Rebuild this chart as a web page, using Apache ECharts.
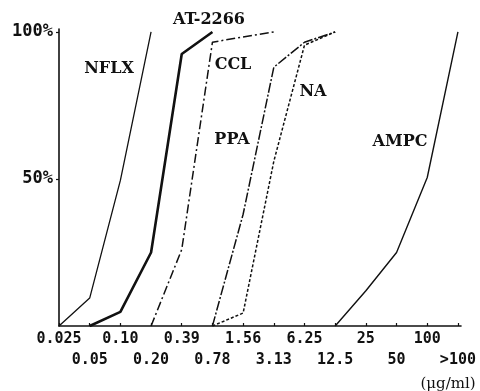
<!DOCTYPE html>
<html>
<head>
<meta charset="utf-8">
<script src="https://cdn.jsdelivr.net/npm/echarts@6/dist/echarts.min.js"></script>
<style>
  html, body { margin: 0; padding: 0; background: #fff; }
  #chart { width: 480px; height: 391px; }
</style>
</head>
<body>
<div id="chart"></div>
<script>
// MIC dilution steps (ug/ml), one axis position each
const concLabels = ['0.025', '0.05', '0.10', '0.20', '0.39', '0.78', '1.56',
  '3.13', '6.25', '12.5', '25', '50', '100', '>100'];

// cumulative % of strains inhibited at each step (null = not drawn)
const nflx   = [0, 9.5, 49.5, 100, null, null, null, null, null, null, null, null, null, null];
const at2266 = [null, 0, 4.8, 25, 92.5, 100, null, null, null, null, null, null, null, null];
const ccl    = [null, null, null, 0, 26, 96.5, 98.3, 100, null, null, null, null, null, null];
const ppa    = [null, null, null, null, null, 0, 38, 88, 96.5, 100, null, null, null, null];
const na     = [null, null, null, null, null, 0, 4.4, 56, 95.5, 100, null, null, null, null];
const ampc   = [null, null, null, null, null, null, null, null, null, 0, 12, 25, 50.5, 100];

const yTicks = [50, 100];

const toPairs = (arr) => arr.map((v, i) => (v == null ? null : [i, v])).filter(Boolean);
const allSteps = concLabels.map((_, i) => i);
const evenSteps = allSteps.filter((i) => i % 2 === 0); // upper label row
const oddSteps = allSteps.filter((i) => i % 2 === 1);  // lower label row

const ink = '#111';
const mkLine = (name, arr, width, type) => ({
  name: name,
  type: 'line',
  xAxisIndex: 0,
  data: toPairs(arr),
  symbol: 'none',
  lineStyle: { color: ink, width: width, type: type },
  emphasis: { disabled: true },
  silent: true,
});

const tickFont = {
  color: ink,
  fontFamily: '"DejaVu Sans Mono", monospace',
  fontWeight: 'bold',
  fontSize: 15,
  hideOverlap: false,
  formatter: (v) => concLabels[v],
};

const labelFont = '"DejaVu Serif", "Liberation Serif", serif';
const tag = (text, x, y, font) => ({
  type: 'text',
  x: x,
  y: y,
  style: {
    text: text,
    fill: ink,
    font: font || ('bold 16px ' + labelFont),
    align: 'center',
    verticalAlign: 'middle',
  },
});

const chart = echarts.init(document.getElementById('chart'), null, { renderer: 'canvas' });

chart.setOption({
  animation: false,
  backgroundColor: '#fff',
  grid: { left: 59, right: 19, top: 29, bottom: 65, containLabel: false },
  xAxis: [
    {
      type: 'value',
      position: 'bottom',
      min: 0,
      max: 13.1,
      axisLine: { lineStyle: { color: ink, width: 1.6 } },
      axisTick: {
        inside: true,
        length: 3,
        customValues: allSteps,
        lineStyle: { color: ink, width: 1.2 },
      },
      axisLabel: Object.assign({ customValues: evenSteps, margin: 6 }, tickFont),
      splitLine: { show: false },
    },
    {
      type: 'value',
      position: 'bottom',
      offset: 0,
      min: 0,
      max: 13.1,
      axisLine: { show: false },
      axisTick: { show: false },
      axisLabel: Object.assign({ customValues: oddSteps, margin: 27 }, tickFont),
      splitLine: { show: false },
    },
  ],
  yAxis: {
    type: 'value',
    min: 0,
    max: 101,
    axisLine: { show: true, lineStyle: { color: ink, width: 1.6 } },
    axisTick: { show: true, length: 3, customValues: yTicks, lineStyle: { color: ink, width: 1.2 } },
    axisLabel: {
      customValues: yTicks,
      formatter: (v) => v + '%',
      color: ink,
      fontFamily: '"DejaVu Sans Mono", monospace',
      fontWeight: 'bold',
      fontSize: 17,
      margin: 6,
    },
    splitLine: { show: false },
  },
  series: [
    mkLine('NFLX', nflx, 1.3, 'solid'),
    mkLine('AT-2266', at2266, 2.6, 'solid'),
    mkLine('CCL', ccl, 1.5, [9, 3, 2, 3]),
    mkLine('PPA', ppa, 1.5, [10, 2, 2, 2]),
    mkLine('NA', na, 1.5, [3, 2]),
    mkLine('AMPC', ampc, 1.4, 'solid'),
  ],
  graphic: [
    tag('NFLX', 109, 69),
    tag('AT-2266', 209, 20),
    tag('CCL', 233, 65),
    tag('PPA', 232, 140),
    tag('NA', 313, 92),
    tag('AMPC', 400, 142),
    tag('(μg/ml)', 448, 384, '15px ' + labelFont),
  ],
});
</script>
</body>
</html>
